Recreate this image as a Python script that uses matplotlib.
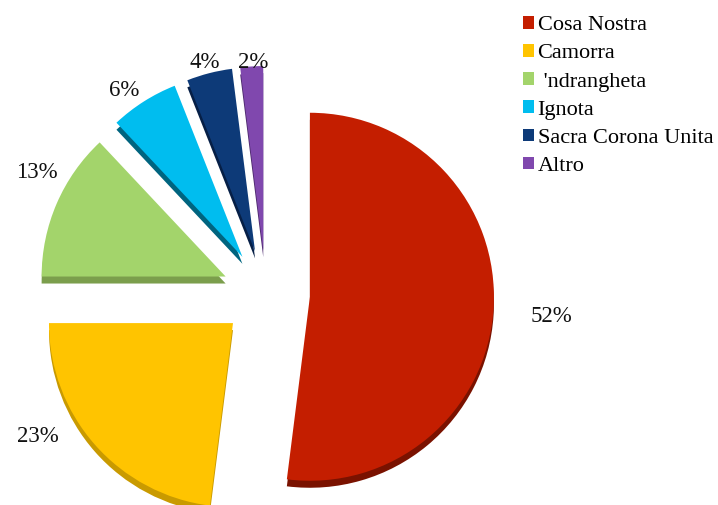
import numpy as np
import matplotlib
matplotlib.use("Agg")
from matplotlib import pyplot as plt

# data
categories = ["Cosa Nostra", "Camorra", " 'ndrangheta", "Ignota",
              "Sacra Corona Unita", "Altro"]
shares = [52, 23, 13, 6, 4, 2]

colors = ["#C41E00", "#FFC400", "#A3D46B", "#00BDEF", "#0D3A78", "#8048AE"]
side_colors = ["#7A1200", "#C99A00", "#7B9E4C", "#00647F", "#061F46", "#4E2A6E"]

# layout (pixels, image coords)
W, H = 718, 505
cx, cy, R = 266, 294, 184
depth = 7
gap = 44  # explode offset in px
label_xy = [(551, 316), (38, 436), (37, 172), (124, 90), (205, 62), (253, 62)]

plt.rcParams['font.family'] = ['Liberation Serif', 'DejaVu Serif']

fig = plt.figure(figsize=(W / 100, H / 100), dpi=100)
ax = fig.add_axes([0, 0, 1, 1])

explode = [gap] * len(shares)
# side (thickness) first, shifted down
ax.pie(shares, explode=explode, startangle=90, counterclock=False,
       colors=side_colors, center=(cx, H - cy - depth), radius=R,
       wedgeprops=dict(linewidth=0))
wedges, _ = ax.pie(shares, explode=explode, startangle=90, counterclock=False,
                   colors=colors, center=(cx, H - cy), radius=R,
                   wedgeprops=dict(linewidth=0))

for (x, y), s in zip(label_xy, shares):
    ax.text(x, H - y, f"{s}%", ha='center', va='center', fontsize=16.5,
            color='#111111')

ax.legend(wedges, categories, loc='upper left',
          bbox_to_anchor=(512 / W, 1 - 5 / H), frameon=False,
          fontsize=16, handlelength=0.5, handleheight=0.5,
          handletextpad=0.15, labelspacing=0.4, borderpad=0)

ax.set_xlim(0, W)
ax.set_ylim(0, H)
ax.set_aspect('equal')
ax.axis('off')
fig.savefig("out.png", dpi=100)
